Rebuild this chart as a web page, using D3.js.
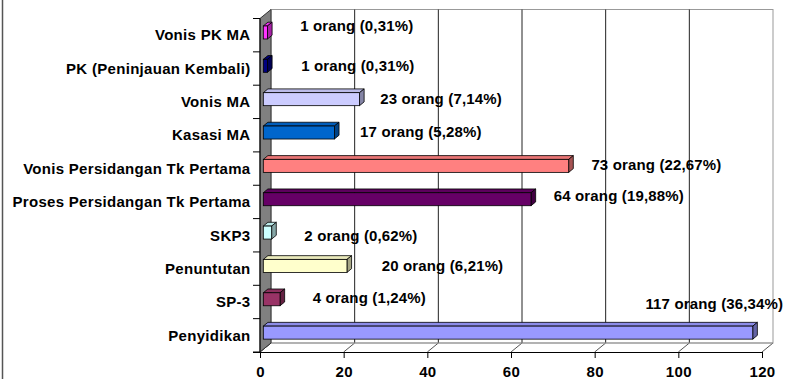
<!DOCTYPE html>
<html>
<head>
<meta charset="utf-8">
<script src="https://cdn.jsdelivr.net/npm/d3@7"></script>
<style>
  html, body { margin: 0; padding: 0; background: #fff; }
  svg { display: block; }
  text { font-family: "Liberation Sans", Arial, sans-serif; font-weight: bold; fill: #000; }
</style>
</head>
<body>
<svg id="chart" width="788" height="379"></svg>
<script>
// Categories, top to bottom
const categories = [
  "Vonis PK MA",
  "PK (Peninjauan Kembali)",
  "Vonis MA",
  "Kasasi MA",
  "Vonis Persidangan Tk Pertama",
  "Proses Persidangan Tk Pertama",
  "SKP3",
  "Penuntutan",
  "SP-3",
  "Penyidikan"
];
// Number of people per stage
const values = [1, 1, 23, 17, 73, 64, 2, 20, 4, 117];
// Bar fill colours
const colors = ["#FF33FF", "#000080", "#CCCCFF", "#0066CC", "#FF8080",
                "#660066", "#CCFFFF", "#FFFFCC", "#993366", "#9999FF"];
// Value axis ticks
const xTicks = [0, 20, 40, 60, 80, 100, 120];

// Label nudges (pixels from bar end / band centre)
const labelNudge = [
  [36, -9], [37, -3], [24, -3], [29, -3], [26, -4],
  [26, -6], [36, 0], [38, -3], [36, -4], [-104, -32]
];

const total = d3.sum(values);
const fmtPct = v => (v / total * 100).toFixed(2).replace(".", ",") + "%";

const svg = d3.select("#chart");

// 3D geometry: wall depth offset and bar depth range
const depth = { dx: 11, dy: -9 };
const barFront = 0.3, barBack = 0.72;
const barH = 13;

const x = d3.scaleLinear().domain([0, 120]).range([260, 762]);
const y = d3.scaleBand().domain(categories).range([18.5, 352]).padding(0);

const plotTop = y.range()[0], plotBottom = y.range()[1];
const x0 = x(0), x1 = x(120);

// chart frame edge on the left
svg.append("line").attr("x1", 2.5).attr("x2", 2.5).attr("y1", 0).attr("y2", 379)
  .attr("stroke", "#555").attr("stroke-width", 1.5);

// back wall
svg.append("rect")
  .attr("x", x0 + depth.dx).attr("y", plotTop + depth.dy)
  .attr("width", x1 - x0).attr("height", plotBottom - plotTop)
  .attr("fill", "#fff").attr("stroke", "#999").attr("stroke-width", 1);

// vertical gridlines on the back wall and their slants across the floor
const grid = svg.append("g");
xTicks.forEach(t => {
  const gx = x(t);
  if (t > 0 && t < 120) {
    grid.append("line")
      .attr("x1", gx + depth.dx).attr("x2", gx + depth.dx)
      .attr("y1", plotTop + depth.dy).attr("y2", plotBottom + depth.dy)
      .attr("stroke", "#222").attr("stroke-width", 1);
  }
  grid.append("line")
    .attr("x1", gx).attr("y1", plotBottom)
    .attr("x2", gx + depth.dx).attr("y2", plotBottom + depth.dy)
    .attr("stroke", t === 0 ? "#000" : "#555").attr("stroke-width", 1);
});
// floor back edge
svg.append("line")
  .attr("x1", x0 + depth.dx).attr("x2", x1 + depth.dx)
  .attr("y1", plotBottom + depth.dy).attr("y2", plotBottom + depth.dy)
  .attr("stroke", "#999").attr("stroke-width", 1);

// left wall
svg.append("polygon")
  .attr("points", [
    [x0, plotTop], [x0 + depth.dx, plotTop + depth.dy],
    [x0 + depth.dx, plotBottom + depth.dy], [x0, plotBottom]
  ].map(p => p.join(",")).join(" "))
  .attr("fill", "#808080").attr("stroke", "#333").attr("stroke-width", 1);

// bars as 3D boxes
const fdx = depth.dx * barFront, fdy = depth.dy * barFront;
const ddx = depth.dx * (barBack - barFront), ddy = depth.dy * (barBack - barFront);
const pts = a => a.map(p => p.join(",")).join(" ");

const bars = svg.append("g").selectAll("g")
  .data(categories.map((c, i) => ({ c, v: values[i], col: colors[i], i })))
  .join("g");

bars.each(function (d) {
  const g = d3.select(this);
  const cy = y(d.c) + y.bandwidth() / 2 + fdy;
  const bx0 = x(0) + fdx, bx1 = x(d.v) + fdx;
  const yt = cy - barH / 2, yb = cy + barH / 2;
  const base = d3.color(d.col);
  // top face
  g.append("polygon")
    .attr("points", pts([[bx0, yt], [bx1, yt], [bx1 + ddx, yt + ddy], [bx0 + ddx, yt + ddy]]))
    .attr("fill", base.darker(0.25)).attr("stroke", "#000").attr("stroke-width", 0.8);
  // side face
  g.append("polygon")
    .attr("points", pts([[bx1, yt], [bx1 + ddx, yt + ddy], [bx1 + ddx, yb + ddy], [bx1, yb]]))
    .attr("fill", base.darker(1.2)).attr("stroke", "#000").attr("stroke-width", 0.8);
  // front face
  g.append("rect")
    .attr("x", bx0).attr("y", yt).attr("width", bx1 - bx0).attr("height", barH)
    .attr("fill", d.col).attr("stroke", "#000").attr("stroke-width", 0.8);
});

// category axis line with boundary ticks
svg.append("line").attr("x1", x0).attr("x2", x0).attr("y1", plotTop).attr("y2", plotBottom)
  .attr("stroke", "#000").attr("stroke-width", 1);
const bounds = categories.map(c => y(c)).concat([plotBottom]);
svg.append("g").selectAll("line").data(bounds).join("line")
  .attr("x1", x0 - 7).attr("x2", x0).attr("y1", d => d).attr("y2", d => d)
  .attr("stroke", "#000").attr("stroke-width", 1);

// category labels
svg.append("g").selectAll("text").data(categories).join("text")
  .attr("x", 250.5)
  .attr("y", d => y(d) + y.bandwidth() / 2)
  .attr("dy", "0.35em")
  .attr("text-anchor", "end")
  .attr("font-size", "15px")
  .attr("letter-spacing", "0.3px")
  .text(d => d);

// value axis along the front of the floor
const xAxis = d3.axisBottom(x).tickValues(xTicks).tickSize(6).tickPadding(8)
  .tickFormat(d3.format("d"));
const ax = svg.append("g").attr("transform", `translate(0,${plotBottom})`).call(xAxis);
ax.select(".domain").attr("stroke", "#000").attr("d", `M${x0 - 7},0.5H${x1}`);
ax.selectAll(".tick line").attr("stroke", "#000");
ax.selectAll(".tick text")
  .attr("font-family", "Liberation Sans, Arial, sans-serif")
  .attr("font-weight", "bold").attr("font-size", "15px").attr("fill", "#000")
  .attr("letter-spacing", "0.3px");

// value labels
svg.append("g").selectAll("text")
  .data(categories.map((c, i) => ({ c, v: values[i], n: labelNudge[i] })))
  .join("text")
  .attr("x", d => x(d.v) + d.n[0])
  .attr("y", d => y(d.c) + y.bandwidth() / 2 + d.n[1])
  .attr("dy", "0.35em")
  .attr("font-size", "15px")
  .attr("letter-spacing", "0.15px")
  .text(d => `${d.v} orang (${fmtPct(d.v)})`);
</script>
</body>
</html>
